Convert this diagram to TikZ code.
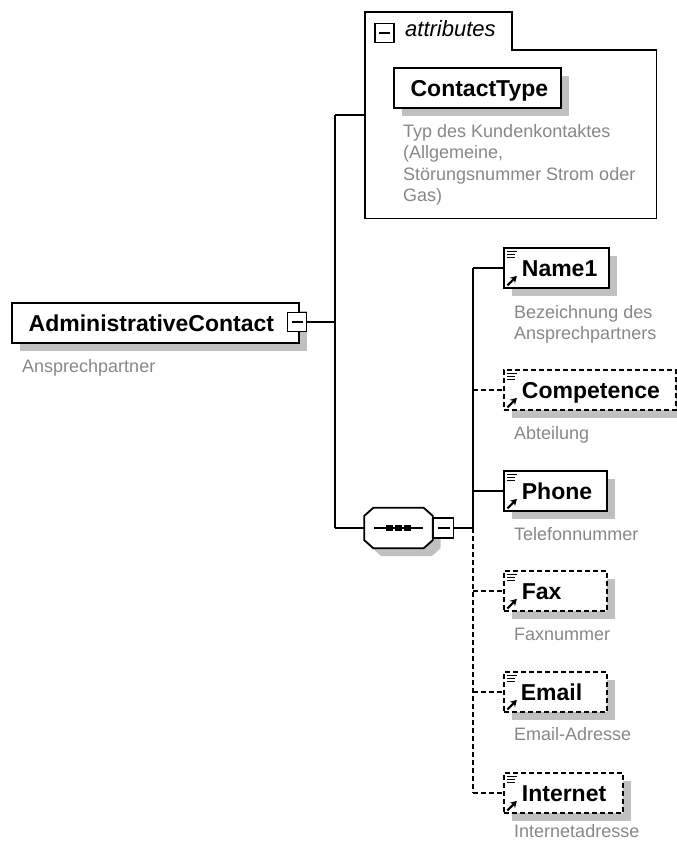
\documentclass[tikz,border=0pt]{standalone}
\usepackage{fontspec}
\setmainfont{Liberation Sans}
\usetikzlibrary{shadows,arrows.meta}
\definecolor{descgray}{RGB}{135,135,135}
\definecolor{shadowgray}{RGB}{192,192,192}
\tikzset{
  conn/.style={line width=1.8pt},
  opt/.style={dash pattern=on 5pt off 3pt},
  box/.style={draw, line width=1.8pt, fill=white, inner sep=0pt, anchor=north west,
    minimum height=40pt, text height=16.5pt, text depth=0pt,
    font=\fontsize{23}{27}\selectfont\bfseries,
    drop shadow={shadow xshift=8pt, shadow yshift=-8pt, fill=shadowgray, opacity=1}},
  elem/.style={box, text width=#1, align=left, path picture={
      \draw[solid, line width=1pt]
        ([xshift=3pt,yshift=-3.5pt]path picture bounding box.north west) -- ++(10pt,0pt)
        ([xshift=3pt,yshift=-6.3pt]path picture bounding box.north west) -- ++(8pt,0pt)
        ([xshift=3pt,yshift=-9.1pt]path picture bounding box.north west) -- ++(8pt,0pt);
      \draw[solid, line width=2.2pt, -{Stealth[length=6.5pt,width=7.5pt]}]
        ([xshift=3.5pt,yshift=2.5pt]path picture bounding box.south west) -- ++(9.5pt,9.5pt);
    }},
  desc/.style={anchor=base west, inner sep=0pt, text=descgray,
    font=\fontsize{18}{21.5}\selectfont, align=left},
  minusbox/.style={draw, solid, line width=1.6pt, fill=white, minimum size=19pt, inner sep=0pt,
    path picture={\draw[solid, line width=1.5pt]
      ([xshift=4pt]path picture bounding box.west) -- ([xshift=-4pt]path picture bounding box.east);}},
}
\begin{document}
\begin{tikzpicture}[x=1pt, y=-1pt]
\useasboundingbox (0,0) rectangle (677,843);

% root element
\node[box, minimum width=287pt] (admin) at (11,302) {AdministrativeContact\hspace*{8pt}};
\node[minusbox] (adminminus) at (297,322) {};
\node[desc] (admindesc) at (22,372) {Ansprechpartner};

% junction coordinates
\coordinate (jR) at (335,322);
\coordinate (jA) at (335,115);
\coordinate (jS) at (335,528);
\coordinate (jC) at (473,528);

% attributes group
\node[inner sep=0pt, minimum width=291pt, minimum height=206pt, anchor=north west] (attrs) at (365,12) {};
\draw[line width=1.8pt] (attrs.north west) -- ([xshift=147pt]attrs.north west)
  -- ([xshift=147pt,yshift=-38pt]attrs.north west) -- ([yshift=-38pt]attrs.north east)
  -- (attrs.south east) -- (attrs.south west) -- cycle;
\node[minusbox] (attrminus) at (384.5,33) {};
\node[anchor=base west, inner sep=0pt, font=\fontsize{22}{26}\selectfont\itshape] (attrlabel) at (405,37) {attributes};
\node[box, minimum width=167pt] (ctype) at (393,67) {\hspace*{4pt}ContactType};
\node[desc] (ctypedesc) at (403,201.5) {Typ des Kundenkontaktes\\(Allgemeine,\\St\"orungsnummer Strom oder\\Gas)};

% sequence compositor
\node[inner sep=0pt, minimum width=68pt, minimum height=40pt] (seq) at (398.5,528) {};
\path[draw, fill=white, line width=1.8pt,
  drop shadow={shadow xshift=8pt, shadow yshift=-8pt, fill=shadowgray, opacity=1}]
  ([xshift=9pt]seq.north west) -- ([xshift=-9pt]seq.north east)
  -- ([yshift=-8pt]seq.north east) -- ([yshift=8pt]seq.south east)
  -- ([xshift=-9pt]seq.south east) -- ([xshift=9pt]seq.south west)
  -- ([yshift=8pt]seq.south west) -- ([yshift=-8pt]seq.north west) -- cycle;
\draw[line width=1.6pt] ([xshift=10pt]seq.west) -- ([xshift=-10pt]seq.east);
\foreach \dx in {-9,0,9} {
  \fill ([xshift=\dx pt]seq.center) ++(-3.2pt,-3.2pt) rectangle ++(6.4pt,6.4pt);
}
\node[minusbox, minimum size=20pt] (seqminus) at (443.5,528) {};

% child elements
\node[elem=105pt] (name1) at (503,247) {\hspace*{18pt}Name1};
\node[desc] (name1desc) at (514,339.5) {Bezeichnung des\\Ansprechpartners};
\node[elem=172pt, opt] (comp) at (503,369) {\hspace*{18pt}Competence};
\node[desc] (compdesc) at (514,439) {Abteilung};
\node[elem=103pt] (phone) at (503,470) {\hspace*{18pt}Phone};
\node[desc] (phonedesc) at (514,540) {Telefonnummer};
\node[elem=103pt, opt] (fax) at (503,570) {\hspace*{18pt}Fax};
\node[desc] (faxdesc) at (514,640) {Faxnummer};
\node[elem=103pt, opt] (email) at (503,671) {\hspace*{17pt}Email};
\node[desc] (emaildesc) at (514,740) {Email-Adresse};
\node[elem=119pt, opt] (internet) at (503,772) {\hspace*{18pt}Internet};
\node[desc] (internetdesc) at (514,837) {Internetadresse};

% connectors
\draw[conn] (adminminus.east) -- (jR);
\draw[conn] (jA) -- (jS);
\draw[conn] (jA) -- (jA -| attrs.west);
\draw[conn] (jS) -- (seq.west);
\draw[conn] (seqminus.east) -- (jC);
\draw[conn] (jC |- name1.west) -- (jC);
\draw[conn, opt] (jC) -- (jC |- internet.west);
\draw[conn] (jC |- name1.west) -- (name1.west);
\draw[conn, opt] (jC |- comp.west) -- (comp.west);
\draw[conn] (jC |- phone.west) -- (phone.west);
\draw[conn, opt] (jC |- fax.west) -- (fax.west);
\draw[conn, opt] (jC |- email.west) -- (email.west);
\draw[conn, opt] (jC |- internet.west) -- (internet.west);
\end{tikzpicture}
\end{document}
